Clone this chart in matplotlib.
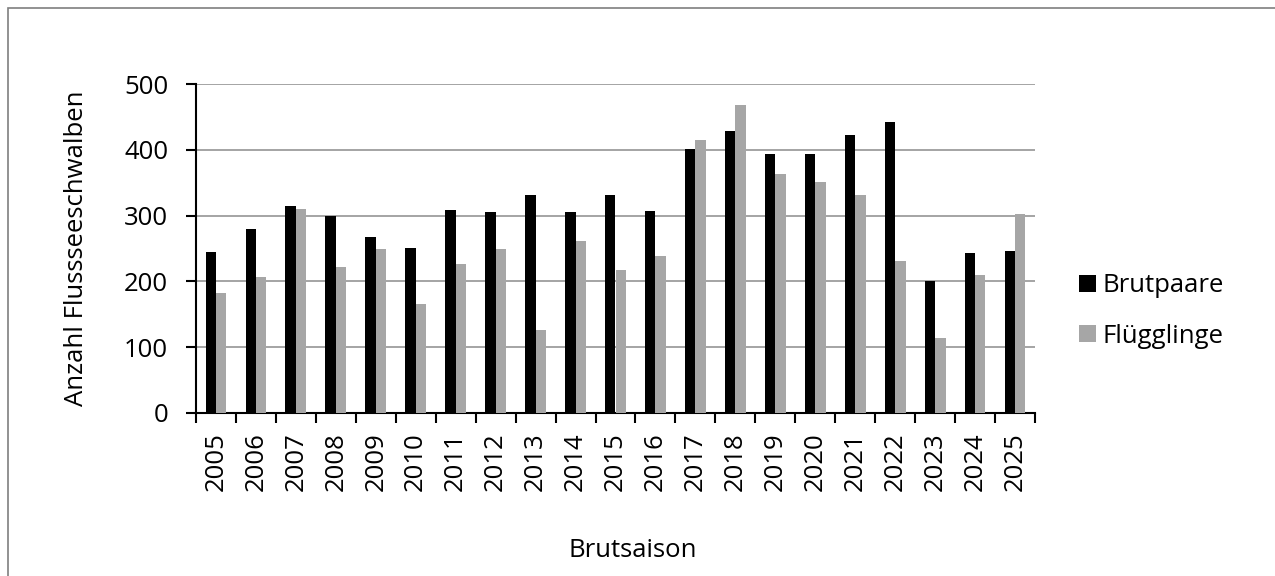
import matplotlib.pyplot as plt
import numpy as np
from matplotlib.patches import Rectangle

plt.rcParams['font.family'] = ['Open Sans', 'DejaVu Sans']

years = [str(y) for y in range(2005, 2026)]
brutpaare = [245, 280, 314, 300, 268, 251, 308, 305, 331, 305, 332, 307,
             401, 428, 393, 394, 422, 443, 200, 243, 246]
fluegglinge = [182, 206, 310, 222, 250, 165, 226, 249, 126, 261, 218, 239,
               415, 468, 363, 351, 331, 231, 114, 210, 302]

fig = plt.figure(figsize=(12.75, 5.76), dpi=100)
ax = fig.add_axes([196 / 1275, 1 - 413 / 576, 839 / 1275, 329 / 576])

x = np.arange(len(years))
w = 0.26
ax.bar(x - w / 2, brutpaare, w, color='black', label='Brutpaare', zorder=3)
ax.bar(x + w / 2, fluegglinge, w, color='#a6a6a6', label='Flügglinge', zorder=3)

ax.set_xlim(-0.5, len(years) - 0.5)
ax.set_ylim(0, 500)
ax.set_yticks(range(0, 501, 100))
ax.yaxis.grid(True, color='#8c8c8c', linewidth=1.1, zorder=0)

ax.set_xticks(x)
ax.set_xticklabels(years, rotation=90, fontsize=18.5)
ax.set_xticks(np.arange(-0.5, len(years), 1), minor=True)
ax.tick_params(axis='x', which='major', length=0, pad=14)
ax.tick_params(axis='x', which='minor', length=7, width=1.5, direction='out')
ax.tick_params(axis='y', length=7, width=1.5, labelsize=18.5, pad=13)

for s in ['top', 'right']:
    ax.spines[s].set_visible(False)
for s in ['left', 'bottom']:
    ax.spines[s].set_linewidth(1.5)

ax.set_ylabel('Anzahl Flussseeschwalben', fontsize=18.5)
ax.yaxis.set_label_coords(-0.127, 0.5)
ax.set_xlabel('Brutsaison', fontsize=18.5)
ax.xaxis.set_label_coords(0.52, -0.38)

ax.legend(loc='center left', bbox_to_anchor=(1.025, 0.31), frameon=False,
          fontsize=18.5, handlelength=0.65, handleheight=0.65, handletextpad=0.28,
          labelspacing=1.0)

# chart area border (only left and top visible in the crop)
fig.patches.append(Rectangle((8 / 1275, -0.1), 1.2, 1.1 - 8 / 576 + 0.0,
                             transform=fig.transFigure, fill=False,
                             edgecolor='#7f7f7f', linewidth=1.2))

fig.savefig('out.png', dpi=100)
